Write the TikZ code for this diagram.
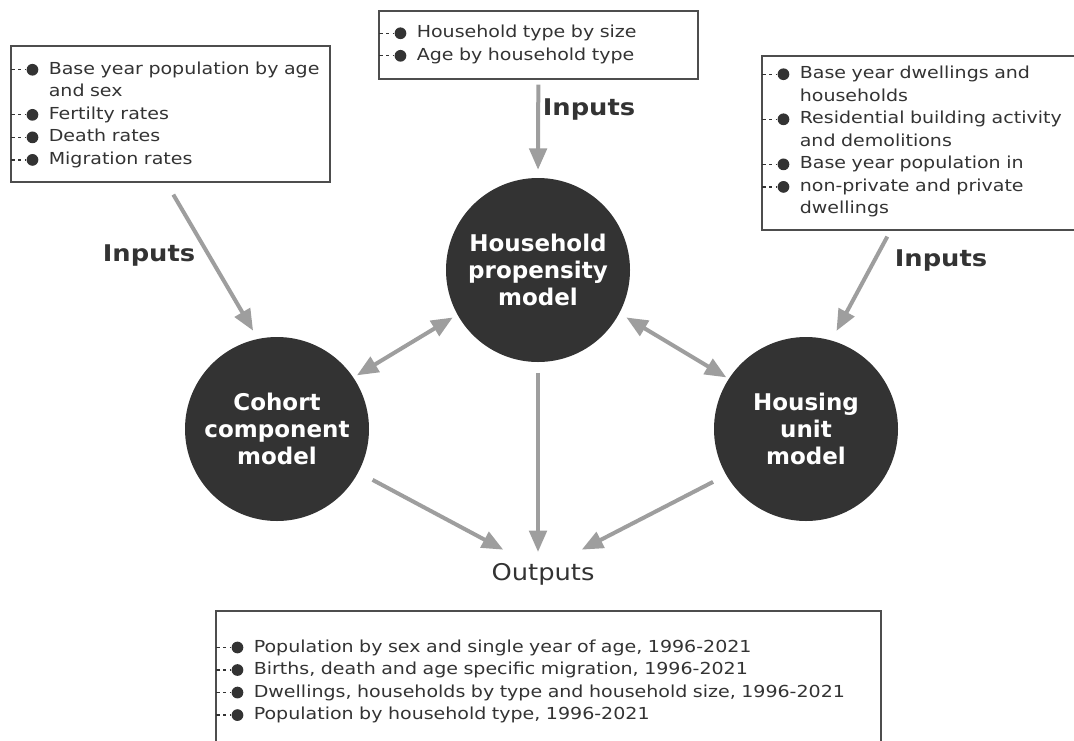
\documentclass[tikz,border=0pt]{standalone}
\usepackage{fontspec}
\setmainfont{DejaVu Sans}
\newfontfamily\listfont[FakeStretch=1.15]{DejaVu Sans}
\newfontfamily\labelfont[FakeStretch=1.12]{DejaVu Sans}
\usetikzlibrary{arrows.meta}
\definecolor{circ}{HTML}{333333}
\definecolor{inktext}{HTML}{333333}
\definecolor{arrgray}{HTML}{9E9E9E}
\definecolor{boxline}{HTML}{4D4D4D}
\newcommand{\mk}{\makebox[28.5pt][l]{\tikz[baseline=-0.5ex]{\draw[inktext, line width=1pt, dash pattern=on 2.5pt off 2.5pt] (0pt,0pt) -- (11pt,0pt); \fill[inktext] (15.75pt,0pt) circle (4.4pt);}}}
\newcommand{\itm}{\par\noindent\hangindent=28.5pt\hangafter=1 \mk}

\begin{document}
\begin{tikzpicture}[x=0.75pt, y=-0.75pt,
  model/.style={circle, fill=circ, text=white, minimum size=138pt, inner sep=0pt, align=center, font=\bfseries\fontsize{17.25pt}{20.25pt}\selectfont},
  listbox/.style={draw=boxline, line width=1.2pt, fill=white, anchor=north west, inner xsep=0pt, text width=#1, align=left, text=inktext, font=\listfont\fontsize{12.4pt}{16.9pt}\selectfont},
  io/.style={text=inktext, inner sep=0pt, anchor=base, font=\labelfont\fontsize{17.25pt}{20pt}\selectfont},
  arr/.style={-{Triangle[length=16pt, width=13pt]}, line width=3pt, arrgray},
  darr/.style={arr, {Triangle[length=16pt, width=13pt]}-{Triangle[length=16pt, width=13pt]}}
]
  \useasboundingbox (0,0) rectangle (1074,740);

  % Models
  \node[model] (household) at (538,270) {Household\\propensity\\model};
  \node[model] (cohort) at (277,429) {Cohort\\component\\model};
  \node[model] (housing) at (806,429) {Housing\\unit\\model};

  % Input lists
  \node[listbox=239.25pt, minimum height=102pt] (popbox) at (10,45)
    {\itm Base year population by age\newline and sex
     \itm Fertilty rates
     \itm Death rates
     \itm Migration rates\par\vspace{6pt}};
  \node[listbox=239.25pt, minimum height=47.25pt] (hhbox) at (378,10)
    {\itm Household type by size
     \itm Age by household type\par\vspace{8pt}};
  \node[listbox=239.25pt, minimum height=130.5pt, inner ysep=0pt] (dwbox) at (761,55)
    {\itm Base year dwellings and\newline households
     \itm Residential building activity\newline and demolitions
     \itm Base year population in
     \itm non-private and private\newline dwellings\par\vspace{9pt}};

  % Output list
  \node[listbox=498.75pt, inner ysep=14pt] (outbox) at (215,610)
    {\itm Population by sex and single year of age, 1996-2021
     \itm Births, death and age specific migration, 1996-2021
     \itm Dwellings, households by type and household size, 1996-2021
     \itm Population by household type, 1996-2021\par};

  % Labels
  \node[io, font=\labelfont\bfseries\fontsize{17.25pt}{20pt}\selectfont] (inleft) at (149,261) {Inputs};
  \node[io, font=\labelfont\bfseries\fontsize{17.25pt}{20pt}\selectfont] (intop) at (589,115) {Inputs};
  \node[io, font=\labelfont\bfseries\fontsize{17.25pt}{20pt}\selectfont] (inright) at (941,266) {Inputs};
  \node[io] (outputs) at (543,580) {Outputs};

  % Inputs
  \draw[arr, shorten >=7pt] (popbox.south) ++(3,12) -- (cohort.102);
  \draw[arr, shorten >=6pt] (hhbox.south) ++(0,5) -- (household.north);
  \draw[arr, shorten >=8pt] (dwbox.south) ++(-34,6) -- (housing.74);

  % Model links
  \draw[darr, shorten <=3pt, shorten >=4pt] (cohort.34) -- (household.209);
  \draw[darr, shorten <=6pt, shorten >=2pt] (household.332) -- (housing.147);

  % Outputs
  \draw[arr, shorten <=12pt] (cohort.332) -- ([shift={(12,-13)}]outputs.north west);
  \draw[arr, shorten <=8pt, shorten >=8pt] (household.south) -- (outputs.north -| household.south);
  \draw[arr, shorten <=11pt] (housing.210) -- ([shift={(-13,-13)}]outputs.north east);
\end{tikzpicture}
\end{document}
